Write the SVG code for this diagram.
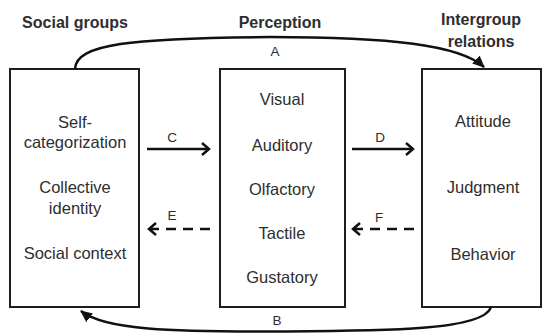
<svg xmlns="http://www.w3.org/2000/svg" width="543" height="333" viewBox="0 0 543 333">
<style>
text{font-family:"Liberation Sans",Arial,sans-serif;fill:#2e2e2e;text-anchor:middle}
.hd{font-size:16px;font-weight:bold}
.t{font-size:16.5px}
.lb{font-size:13.5px}
.box{fill:#fff;stroke:#1e1e1e;stroke-width:2}
.c{fill:none;stroke:#111;stroke-width:2.5}
.dash{stroke-dasharray:10 7}
</style>
<defs>
<marker id="chev" markerUnits="userSpaceOnUse" markerWidth="14" markerHeight="16" refX="9" refY="7" orient="auto">
<path d="M2,1 L9,7 L2,13" fill="none" stroke="#111" stroke-width="2.5"/>
</marker>
<marker id="tri" markerUnits="userSpaceOnUse" markerWidth="14" markerHeight="12" refX="11" refY="6" orient="auto">
<path d="M0,0.5 L12,6 L0,11.5 Z" fill="#111"/>
</marker>
</defs>
<text class="hd" x="75" y="28">Social groups</text>
<text class="hd" x="280" y="28">Perception</text>
<text class="hd" x="481" y="25">Intergroup</text>
<text class="hd" x="481" y="47">relations</text>
<g id="social">
<rect class="box" x="10" y="69" width="129" height="238"/>
<text class="t" x="75" y="128">Self-</text>
<text class="t" x="75" y="148">categorization</text>
<text class="t" x="75" y="193">Collective</text>
<text class="t" x="75" y="214">identity</text>
<text class="t" x="75" y="259">Social context</text>
</g>
<g id="perception">
<rect class="box" x="220" y="69" width="125" height="238"/>
<text class="t" x="282" y="105">Visual</text>
<text class="t" x="282" y="151">Auditory</text>
<text class="t" x="282" y="195">Olfactory</text>
<text class="t" x="282" y="239">Tactile</text>
<text class="t" x="282" y="283">Gustatory</text>
</g>
<g id="intergroup">
<rect class="box" x="422" y="69" width="119" height="238"/>
<text class="t" x="483" y="127">Attitude</text>
<text class="t" x="483" y="193">Judgment</text>
<text class="t" x="483" y="260">Behavior</text>
</g>
<g id="connectors">
<path class="c" d="M75 69 C76 44 130 38 270 37 C390 37 460 45 484 67" marker-end="url(#tri)"/>
<text class="lb" x="275" y="56">A</text>
<path class="c" d="M491 307 C484 331 380 331 280 331.5 C170 332 105 330 81 311" marker-end="url(#tri)"/>
<text class="lb" x="277" y="325">B</text>
<line class="c" x1="147" y1="149" x2="209" y2="149" marker-end="url(#chev)"/>
<text class="lb" x="172" y="142">C</text>
<line class="c" x1="352" y1="149" x2="413" y2="149" marker-end="url(#chev)"/>
<text class="lb" x="380" y="142">D</text>
<line class="c dash" x1="210" y1="229" x2="149" y2="229" marker-end="url(#chev)"/>
<text class="lb" x="172" y="220">E</text>
<line class="c dash" x1="414" y1="229" x2="353" y2="229" marker-end="url(#chev)"/>
<text class="lb" x="379" y="222">F</text>
</g>
</svg>
